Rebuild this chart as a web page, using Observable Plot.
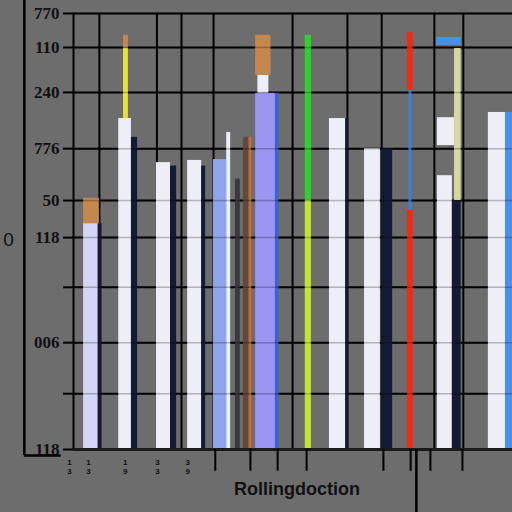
<!DOCTYPE html>
<html><head><meta charset="utf-8">
<script src="https://cdn.jsdelivr.net/npm/d3@7"></script>
<script src="https://cdn.jsdelivr.net/npm/@observablehq/plot@0.6"></script>
<style>html,body{margin:0;padding:0;background:#6d6d6d;overflow:hidden}</style>
</head><body><div id="chart"></div>
<script>
// Axis ticks and labels (as printed in the picture)
const yTickValues = [0, 12.8, 24.5, 37.2, 48.6, 57.1, 69.0, 81.9, 92.2, 100];
const yTickLabels = ["118", "", "006", "", "118", "50", "776", "240", "110", "770"];
const xGridValues = [0, 5.9, 19.0, 24.6, 31.9, 49.9, 62.4, 70.2, 82.2, 88.8];
const xTickMarks = [32.3, 40.3, 46.5, 53.1, 70.6, 76.8, 81.3, 88.6];
const xTickLabelPos = [-0.9, 3.4, 11.8, 19.1, 26];
const xTickLabels = ["1\n3", "1\n3", "1\n9", "3\n3", "3\n9"];
const xTitle = "Rollingdoction";
const sideLabel = "0";

// Bars / segments: start, end along x; low and high values; series
const barStart = [2.3, 5.6, 2.3, 10.3, 13.2, 11.4, 11.4, 18.9, 22.1, 26.0, 29.2, 31.9, 34.9, 36.9, 38.7, 40.0, 41.5, 46.0, 42.0, 41.5, 52.8, 52.8, 58.3, 62.0, 66.3, 70.2, 76.1, 76.4, 76.1, 82.9, 86.3, 86.8, 82.9, 82.7, 94.5, 98.4];
const barEnd   = [6.2, 6.5, 5.9, 13.2, 14.6, 12.5, 12.5, 22.1, 23.5, 29.2, 30.1, 34.9, 35.8, 38.0, 40.0, 40.6, 46.0, 46.8, 44.5, 45.0, 54.2, 54.2, 62.0, 62.7, 69.9, 72.7, 77.4, 77.1, 77.4, 86.3, 88.3, 88.3, 86.8, 88.3, 98.4, 100];
const barLow   = [0, 0, 51.8, 0, 0, 75.9, 92.0, 0, 0, 0, 0, 0, 0, 0, 0, 0, 0, 0, 81.7, 85.8, 57.1, 0, 0, 0, 0, 0, 82.3, 54.8, 0, 0, 0, 57.1, 69.7, 92.7, 0, 0];
const barHigh  = [51.8, 51.8, 57.6, 75.9, 71.6, 92.0, 95.0, 65.8, 65.0, 66.3, 65.0, 66.5, 72.7, 62.0, 71.6, 71.6, 81.7, 81.7, 85.8, 95.0, 95.0, 57.1, 75.9, 75.9, 69.0, 69.0, 95.6, 82.3, 54.8, 62.8, 57.1, 92.0, 76.1, 94.5, 77.3, 77.3];
const barSeries = ["lavender", "navy", "tan", "white", "navy", "yellow", "tan", "white", "navy", "white", "navy", "blue", "white", "darkgray", "brown", "orange", "purple", "darkblue", "white", "tan", "green", "lime", "white", "navy", "white", "navy", "red", "steel", "red", "white", "navy", "paleyellow", "white", "sky", "white", "sky"];

const seriesNames = ["white", "lavender", "navy", "tan", "yellow", "blue", "purple", "darkblue", "brown", "orange", "darkgray", "green", "lime", "red", "steel", "paleyellow", "sky"];
const seriesColors = ["#eeeef6", "#d4d6f8", "#121a36", "#c4884c", "#ece232", "#8ea6ee", "#9a96f2", "#3a64d4", "#5e4a40", "#d06a34", "#3a3a3e", "#2ad42a", "#c4e432", "#f22a12", "#3a82d2", "#d6d8a2", "#4a90e8"];

const bars = barStart.map((s, i) => ({x1: s, x2: barEnd[i], y1: barLow[i], y2: barHigh[i], series: barSeries[i]}));
const xLabels = xTickLabelPos.map((p, i) => ({x: p, label: xTickLabels[i]}));

const chart = Plot.plot({
  width: 512, height: 512,
  marginTop: 13, marginBottom: 63, marginLeft: 73, marginRight: 0,
  style: {background: "#6d6d6d", overflow: "visible"},
  x: {domain: [0, 100], axis: null},
  y: {domain: [0, 100], axis: null},
  color: {type: "ordinal", domain: seriesNames, range: seriesColors},
  marks: [
    Plot.gridY(yTickValues, {stroke: "#000", strokeOpacity: 1, strokeWidth: 2}),
    Plot.gridX(xGridValues, {stroke: "#000", strokeOpacity: 1, strokeWidth: 2}),
    Plot.rect(bars, {x1: "x1", x2: "x2", y1: "y1", y2: "y2", fill: "series"}),
    Plot.gridY(yTickValues, {stroke: "#000", strokeOpacity: 0.25, strokeWidth: 1.5}),
    Plot.axisY({ticks: yTickValues, tickFormat: (d, i) => yTickLabels[i], tickSize: 10, tickPadding: 4,
      stroke: "#000", strokeWidth: 2, fill: "#111", fontSize: 17, fontWeight: "bold", fontFamily: "Liberation Serif"}),
    Plot.ruleY([0], {stroke: "#1a1a1a", strokeWidth: 3}),
    Plot.ruleX(xTickMarks, {y1: 0, y2: -5, stroke: "#000", strokeWidth: 2, clip: false}),
    Plot.ruleX([78.1], {y1: 0, y2: -15, stroke: "#000", strokeWidth: 2.5, clip: false}),
    Plot.ruleX([-11.2], {y1: -1.4, y2: 103, stroke: "#000", strokeWidth: 2.5, clip: false}),
    Plot.ruleY([-1.4], {x1: -11.2, x2: -2.8, stroke: "#000", strokeWidth: 2.5, clip: false}),
    Plot.text([sideLabel], {x: -14.8, y: 48, text: d => d, fontSize: 19, fill: "#111", fontFamily: "Liberation Sans", clip: false}),
    Plot.text(xLabels, {x: "x", y: -4.0, text: "label", fontSize: 8, fontWeight: "bold", lineHeight: 1.15, fill: "#111", fontFamily: "Liberation Sans", clip: false}),
    Plot.text([xTitle], {frameAnchor: "bottom", dx: 4, dy: 45, text: d => d, fontSize: 18, fontWeight: "bold", fill: "#111", fontFamily: "Liberation Sans"})
  ]
});
document.getElementById("chart").appendChild(chart);
</script>
</body></html>
